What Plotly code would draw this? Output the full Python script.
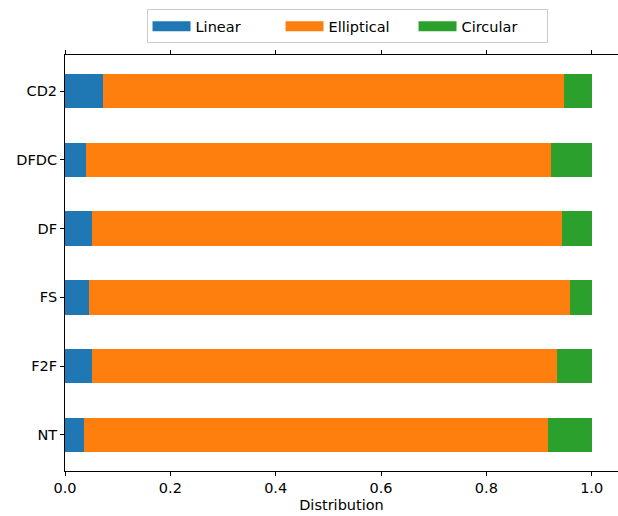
import plotly.graph_objects as go

categories = ["NT", "F2F", "FS", "DF", "DFDC", "CD2"]
linear = [0.037, 0.052, 0.046, 0.052, 0.040, 0.073]
elliptical = [0.881, 0.883, 0.913, 0.892, 0.883, 0.875]
circular = [0.082, 0.065, 0.041, 0.056, 0.077, 0.052]
series_names = ["Linear", "Elliptical", "Circular"]
colors = ["#1f77b4", "#ff7f0e", "#2ca02c"]

fig = go.Figure()
for name, vals, col in zip(series_names, [linear, elliptical, circular], colors):
    fig.add_trace(go.Bar(
        y=categories, x=vals, name=name, orientation="h",
        marker=dict(color=col, line=dict(width=0)),
        showlegend=False,
    ))
# legend proxies (wide swatches like matplotlib)
for name, col in zip(series_names, colors):
    fig.add_trace(go.Scatter(
        x=[None], y=[None], mode="lines", name=name,
        line=dict(color=col, width=10),
        showlegend=True,
    ))

FS = 14.5
font = dict(family="DejaVu Sans", size=FS, color="black")
fig.update_layout(
    width=618, height=516,
    barmode="stack", bargap=0.5,
    plot_bgcolor="white", paper_bgcolor="white",
    margin=dict(l=65, r=0, t=55, b=45),
    font=font,
    legend=dict(
        orientation="h", x=0.51, xanchor="center", y=1.028, yanchor="bottom",
        bordercolor="#cccccc", borderwidth=1, traceorder="normal",
        font=font, tracegroupgap=0, itemwidth=38,
        entrywidth=80, entrywidthmode="pixels",
    ),
    xaxis=dict(
        range=[0, 1.05], tickvals=[0, 0.2, 0.4, 0.6, 0.8, 1.0],
        ticktext=["0.0", "0.2", "0.4", "0.6", "0.8", "1.0"],
        showline=True, linecolor="black", linewidth=1, mirror="all",
        ticks="outside", ticklen=4, tickcolor="black", showgrid=False,
        zeroline=False, automargin=False,
        title=dict(text="Distribution", font=font, standoff=4),
    ),
    yaxis=dict(
        type="category", categoryorder="array", categoryarray=categories,
        range=[-0.525, 5.525],
        showline=True, linecolor="black", linewidth=1,
        ticks="outside", ticklen=4, tickcolor="black", showgrid=False,
        zeroline=False, automargin=False,
    ),
)
fig.write_html(
    "out.html",
    config={"displayModeBar": False},
    post_script="document.body.style.margin='0';document.body.style.overflow='hidden';",
)
